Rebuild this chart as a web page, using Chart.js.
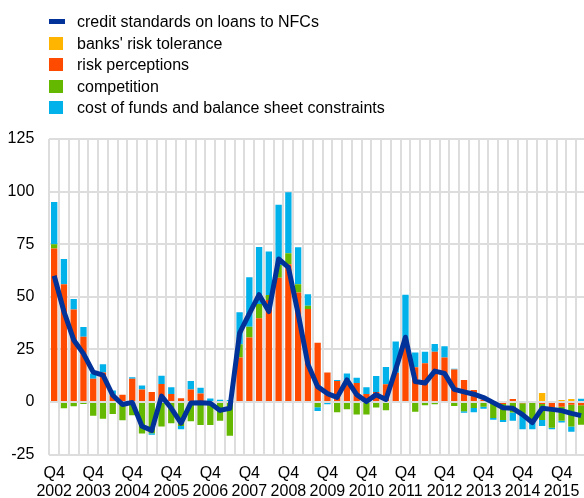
<!DOCTYPE html>
<html>
<head>
<meta charset="utf-8">
<script src="https://cdn.jsdelivr.net/npm/chart.js@4.4.1/dist/chart.umd.min.js"></script>
<style>
  html, body { margin: 0; padding: 0; background: #fff; overflow: hidden; width: 584px; height: 498px; }
  #wrap { position: relative; width: 584px; height: 498px; overflow: hidden; }
  #c { position: absolute; left: 0; top: 0; }
  #legend { position: absolute; left: 49px; top: 11px; font-family: 'Liberation Sans', Arial, sans-serif; font-size: 16px; color: #000; }
  .row { height: 21.5px; line-height: 21.5px; display: flex; align-items: center; white-space: nowrap; }
  .mk { width: 16px; margin-right: 12px; display: flex; align-items: center; }
  .sq { width: 14px; height: 13px; }
  .ln { width: 16px; height: 5px; }
</style>
</head>
<body>
<div id="wrap">
  <canvas id="c" width="592" height="498"></canvas>
  <div id="legend"></div>
</div>
<script>
const categories = [
  "2002Q4",
  "2003Q1","2003Q2","2003Q3","2003Q4",
  "2004Q1","2004Q2","2004Q3","2004Q4",
  "2005Q1","2005Q2","2005Q3","2005Q4",
  "2006Q1","2006Q2","2006Q3","2006Q4",
  "2007Q1","2007Q2","2007Q3","2007Q4",
  "2008Q1","2008Q2","2008Q3","2008Q4",
  "2009Q1","2009Q2","2009Q3","2009Q4",
  "2010Q1","2010Q2","2010Q3","2010Q4",
  "2011Q1","2011Q2","2011Q3","2011Q4",
  "2012Q1","2012Q2","2012Q3","2012Q4",
  "2013Q1","2013Q2","2013Q3","2013Q4",
  "2014Q1","2014Q2","2014Q3","2014Q4",
  "2015Q1","2015Q2","2015Q3","2015Q4",
  "2016Q1","2016Q2"
];

const creditStandards = [
  60,
  43, 29.5, 23, 14.2,
  12.8, 3.2, -1.2, -0.2,
  -11.5, -13.5, 2.8, -3,
  -10, -0.5, -0.3, -0.6,
  -4, -3, 32.7, 42,
  51, 43, 68, 64,
  42, 18, 7.3, 4,
  2.2, 10.5, 3.5, 0.2,
  3.5, 1.2, 15.5, 30.8,
  9.7, 9, 14.7, 13.6,
  6, 4.8, 3.7, 2.1,
  -0.3, -2.7, -3, -6,
  -9.8, -3, -3.5, -4.1,
  -5.4, -6.5
];

const riskTolerance = [
  null,
  null, null, null, null,
  null, null, null, null,
  null, null, null, null,
  null, null, null, null,
  null, null, null, null,
  null, null, null, null,
  null, null, null, null,
  null, null, null, null,
  null, null, null, null,
  null, null, null, null,
  null, null, null, null,
  null, -0.5, null, null,
  null, 4.3, null, 1,
  1.4, 0.5
];

const riskPerceptions = [
  73,
  56, 44, 31, 11,
  14, 3.5, 3.4, 11,
  6, 4.7, 8.5, 3.8,
  1.8, 6, 4, 0.5,
  0, 0, 21.2, 30.6,
  39.8, 48.5, 59.1, 65.5,
  52, 44.2, 28.2, 14,
  10, 10.5, 9, 3.8,
  4.8, 8.4, 13.9, 27,
  16.5, 18.4, 23.9, 21.2,
  15.5, 10.5, 5.7, 1.2,
  0, -0.5, 1.4, -0.6,
  0, -1, -2.5, -2.2,
  -1.3, -1.5
];

const competition = [
  2,
  -3, -2, -1, -6.5,
  -8, -5.7, -8.7, -6.3,
  -15, -14.8, -11.7, -10.1,
  -11.4, -9.2, -10.9, -10.9,
  -8.9, -16, 6.2, 5.2,
  6.8, 2.4, 6, 5.2,
  4, 1.6, -2.5, 0,
  -4.9, -3.4, -6, -5.9,
  -2.6, -3.9, 0, 0,
  -4.6, -1.6, -1.1, 0,
  -1.9, -4.4, -2.9, -2.2,
  -7.6, -7.6, -5, -5,
  -8.5, -7.6, -9.7, -6.7,
  -10.4, -9.3
];

const costOfFunds = [
  20,
  12, 5, 4.7, 2.5,
  4, 2, 0, 0.8,
  1.8, -0.8, 4, 3.2,
  -1.6, 4, 2.8, 1.2,
  1.1, 1, 15.2, 23.5,
  27.1, 20.6, 28.6, 29,
  17.5, 5.4, -1.8, -1.1,
  0.5, 3.1, 2.5, 3.2,
  7.5, 8.2, 14.8, 24,
  7, 5.5, 3.7, 5.3,
  0.3, -0.7, -2, -1,
  -0.8, -0.9, -3.9, -7.4,
  -4.5, -2.8, -0.8, -0.9,
  -2.4, 1
];

const yTicks = [-25, 0, 25, 50, 75, 100, 125];

const seriesNames = [
  "credit standards on loans to NFCs",
  "banks' risk tolerance",
  "risk perceptions",
  "competition",
  "cost of funds and balance sheet constraints"
];

const colors = {
  line: "#003299",
  yellow: "#FFB400",
  red: "#FF4B00",
  green: "#65B800",
  blue: "#00B1EA"
};

const FONT = "'Liberation Sans', Arial, sans-serif";

function barDs(label, data, color) {
  return {
    type: 'bar', label, data,
    backgroundColor: color,
    borderWidth: 0,
    stack: 'bars',
    barPercentage: 0.65,
    categoryPercentage: 1.0
  };
}

const chart = new Chart(document.getElementById('c'), {
  data: {
    labels: categories,
    datasets: [
      {
        type: 'line', label: seriesNames[0], data: creditStandards,
        borderColor: colors.line, backgroundColor: colors.line,
        borderWidth: 5, pointRadius: 0, tension: 0, fill: false,
        borderJoinStyle: 'round', stack: 'line'
      },
      barDs(seriesNames[1], riskTolerance, colors.yellow),
      barDs(seriesNames[2], riskPerceptions, colors.red),
      barDs(seriesNames[3], competition, colors.green),
      barDs(seriesNames[4], costOfFunds, colors.blue)
    ]
  },
  options: {
    responsive: false,
    animation: false,
    devicePixelRatio: 1,
    layout: { padding: { top: 139, right: 6, bottom: 0, left: 0 } },
    plugins: { legend: { display: false }, tooltip: { enabled: false } },
    scales: {
      x: {
        stacked: true,
        grid: { color: '#dddddd', lineWidth: 2, drawTicks: false, offset: true },
        border: { display: false },
        ticks: {
          autoSkip: false, maxRotation: 0, minRotation: 0, padding: 9.5,
          color: '#000',
          font: { family: FONT, size: 16, lineHeight: 1.125 },
          callback: function (v, i) {
            const c = categories[i];
            return c.endsWith('Q4') ? ['Q4', c.slice(0, 4)] : '';
          }
        },
        afterFit: function (s) { s.height = 43.4; }
      },
      y: {
        stacked: true,
        min: yTicks[0], max: yTicks[yTicks.length - 1],
        grid: { color: '#dddddd', lineWidth: 2, drawTicks: false },
        border: { display: false },
        ticks: {
          stepSize: yTicks[1] - yTicks[0], padding: 15, color: '#000',
          font: { family: FONT, size: 16 }
        },
        afterFit: function (s) { s.width = 49.3; }
      }
    }
  }
});

// HTML legend built from the chart's datasets
const legendEl = document.getElementById('legend');
chart.data.datasets.forEach(function (ds, i) {
  const row = document.createElement('div');
  row.className = 'row';
  const mk = document.createElement('div');
  mk.className = 'mk';
  const sw = document.createElement('div');
  sw.className = ds.type === 'line' ? 'ln' : 'sq';
  sw.style.background = ds.type === 'line' ? ds.borderColor : ds.backgroundColor;
  mk.appendChild(sw);
  const tx = document.createElement('span');
  tx.textContent = ds.label;
  row.appendChild(mk);
  row.appendChild(tx);
  legendEl.appendChild(row);
});
</script>
</body>
</html>
